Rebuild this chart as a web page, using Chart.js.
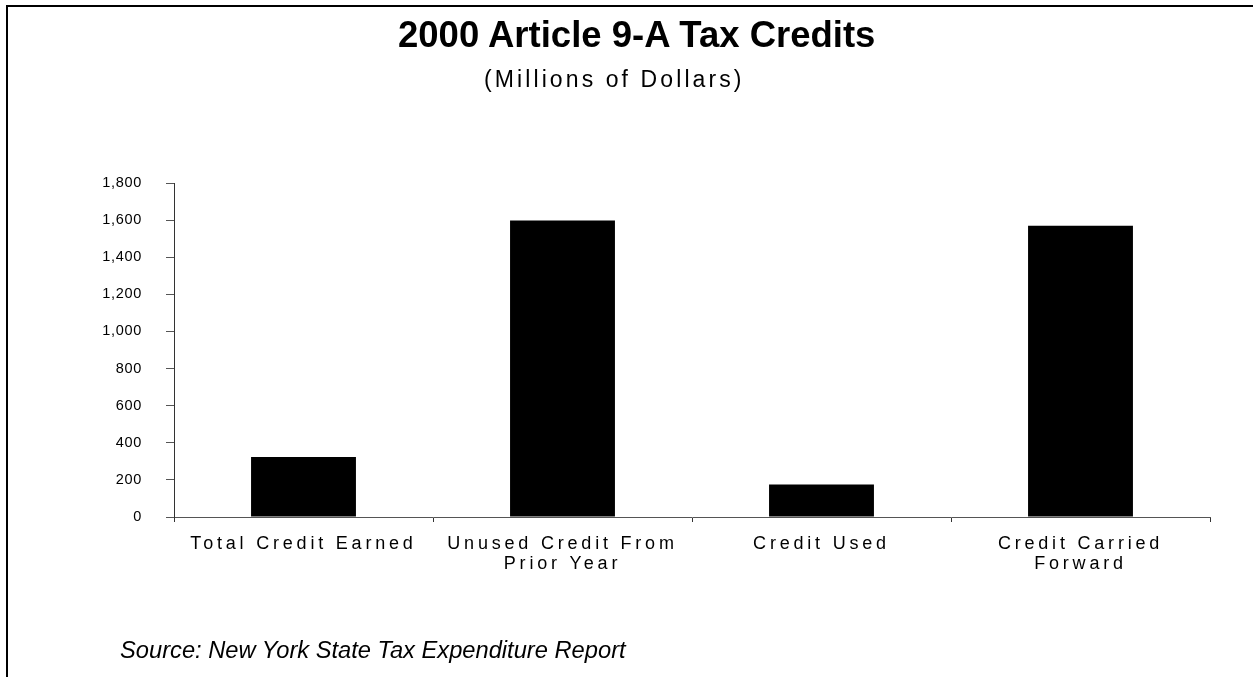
<!DOCTYPE html>
<html>
<head>
<meta charset="utf-8">
<title>2000 Article 9-A Tax Credits</title>
<script src="https://cdn.jsdelivr.net/npm/chart.js@4.4.1/dist/chart.umd.min.js"></script>
<style>
  html, body { margin: 0; padding: 0; background: #fff; }
  body { width: 1253px; height: 677px; position: relative; overflow: hidden; }
  #frame {
    position: absolute; left: 6px; top: 5px; width: 1400px; height: 800px;
    border-top: 2px solid #000; border-left: 2px solid #000; box-sizing: border-box;
  }
  #chartWrap { position: absolute; left: 0; top: 0; width: 1253px; height: 677px; }
  .txt { position: absolute; color: #000; white-space: nowrap; }
  #title {
    left: 398px; top: 14px;
    font-family: "Liberation Sans", Arial, sans-serif; font-weight: bold; font-size: 36.5px;
  }
  #subtitle {
    left: 484px; top: 66px;
    font-family: "Liberation Sans", Arial, sans-serif; font-size: 23px; letter-spacing: 3.1px;
  }
  #source {
    left: 120px; top: 637px;
    font-family: "Liberation Sans", Arial, sans-serif; font-style: italic; font-size: 23.7px;
  }
</style>
</head>
<body>
<div id="frame"></div>
<div id="chartWrap"><canvas id="chart" width="1253" height="677"></canvas></div>
<div id="title" class="txt">2000 Article 9-A Tax Credits</div>
<div id="subtitle" class="txt">(Millions of Dollars)</div>
<div id="source" class="txt">Source: New York State Tax Expenditure Report</div>
<script>
// Credit categories (multi-line labels under the x axis)
const categories = [
  ["Total Credit Earned"],
  ["Unused Credit From", "Prior Year"],
  ["Credit Used"],
  ["Credit Carried", "Forward"]
];
// Amounts in millions of dollars
const creditValues = [324, 1598, 175, 1570];
// Value axis range and step
const yMin = 0;
const yMax = 1800;
const yStep = 200;

// Spaced-out tick lettering, applied per axis while its labels are drawn
const labelSpacing = { x: '3.8px', y: '0.7px' };
const spacedLabels = {
  id: 'spacedLabels',
  beforeDraw(chart) {
    Object.values(chart.scales).forEach(scale => {
      if (scale._spacedWrapped) return;
      const orig = scale.drawLabels;
      scale.drawLabels = function (area) {
        const ctx = this.ctx;
        const prev = ctx.letterSpacing;
        ctx.letterSpacing = labelSpacing[this.id] || '0px';
        orig.call(this, area);
        ctx.letterSpacing = prev;
      };
      scale._spacedWrapped = true;
    });
  }
};

new Chart(document.getElementById('chart'), {
  type: 'bar',
  data: {
    labels: categories,
    datasets: [{
      data: creditValues,
      backgroundColor: '#000',
      borderWidth: 0,
      categoryPercentage: 1,
      barPercentage: 0.405
    }]
  },
  options: {
    responsive: false,
    animation: false,
    events: [],
    layout: { padding: { left: 0, right: 43, top: 183, bottom: 0 } },
    plugins: { legend: { display: false }, tooltip: { enabled: false }, title: { display: false } },
    scales: {
      x: {
        grid: {
          display: true, drawOnChartArea: false, drawTicks: true,
          tickLength: 5, color: '#333', offset: true
        },
        border: { display: true, color: '#555', width: 1 },
        ticks: {
          color: '#000', padding: 12, maxRotation: 0, autoSkip: false,
          font: { family: '"Liberation Sans", Arial, sans-serif', size: 18, lineHeight: 1.1 }
        },
        afterFit(scale) { scale.height = 160; }
      },
      y: {
        min: yMin, max: yMax,
        grid: {
          display: true, drawOnChartArea: false, drawTicks: true,
          tickLength: 8, color: '#555'
        },
        border: { display: true, color: '#333', width: 1 },
        ticks: {
          stepSize: yStep, color: '#000', padding: 24,
          font: { family: '"Liberation Sans", Arial, sans-serif', size: 14.5 },
          callback: v => v.toLocaleString('en-US')
        },
        afterFit(scale) { scale.width = 174; }
      }
    }
  },
  plugins: [spacedLabels]
});
</script>
</body>
</html>
